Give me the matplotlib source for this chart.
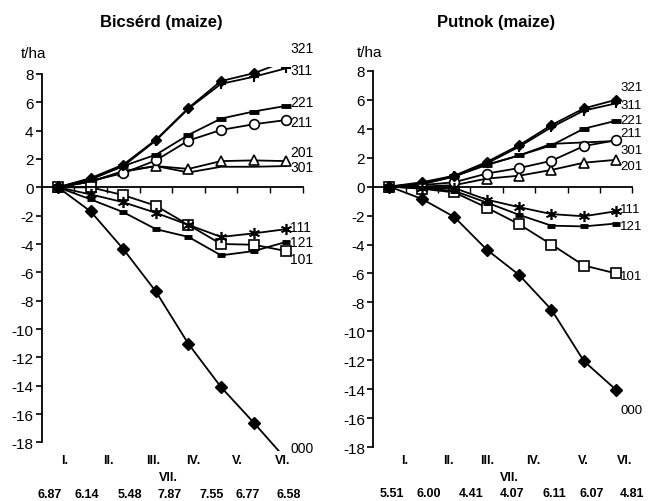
import numpy as np
import matplotlib
import matplotlib.pyplot as plt

matplotlib.use('agg')
plt.rcParams['font.family'] = ['Liberation Sans', 'DejaVu Sans']
plt.rcParams['axes.unicode_minus'] = False

x = np.arange(8)

# Bicsérd (maize), t/ha difference
bic_321 = [0, 0.65, 1.6, 3.35, 5.6, 7.5, 8.05, 8.9]
bic_311 = [0, 0.6, 1.5, 3.3, 5.55, 7.3, 7.8, 8.4]
bic_221 = [0, 0.55, 1.5, 2.3, 3.7, 4.85, 5.35, 5.75]
bic_211 = [0, 0.45, 1.0, 1.9, 3.3, 4.05, 4.45, 4.75]
bic_201 = [0, 0.4, 1.15, 1.5, 1.3, 1.85, 1.9, 1.85]
bic_301 = [0, 0.4, 1.1, 1.5, 1.05, 1.45, 1.45, 1.5]
bic_111 = [0, -0.5, -1.05, -1.8, -2.65, -3.5, -3.25, -2.95]
bic_121 = [0, -0.85, -1.75, -2.95, -3.5, -4.8, -4.5, -3.85]
bic_101 = [0, 0.0, -0.55, -1.3, -2.65, -4.0, -4.05, -4.5]
bic_000 = [0, -1.7, -4.35, -7.35, -11.05, -14.1, -16.6, -19.2]

# Putnok (maize)
put_321 = [0, 0.3, 0.75, 1.7, 2.85, 4.25, 5.4, 6.0]
put_311 = [0, 0.2, 0.7, 1.6, 2.75, 4.1, 5.25, 5.75]
put_221 = [0, 0.2, 0.75, 1.5, 2.15, 2.85, 4.0, 4.55]
put_211 = [0, 0.1, 0.3, 0.9, 1.28, 1.78, 2.8, 3.2]
put_201 = [0, 0.0, 0.1, 0.55, 0.75, 1.15, 1.65, 1.85]
put_301 = [0, 0.15, 0.7, 1.5, 2.15, 2.95, 3.05, 3.15]
put_111 = [0, -0.1, -0.1, -0.9, -1.42, -1.9, -2.05, -1.7]
put_121 = [0, -0.1, -0.3, -1.1, -1.95, -2.7, -2.75, -2.55]
put_101 = [0, -0.15, -0.4, -1.45, -2.6, -4.0, -5.45, -6.0]
put_000 = [0, -0.85, -2.1, -4.35, -6.1, -8.5, -12.05, -14.05]

# end-of-line label heights
bic_lab_y = {"321": 9.8, "311": 8.3, "221": 6.0, "211": 4.6, "201": 2.5, "301": 1.45,
             "111": -2.8, "121": -3.85, "101": -5.05, "000": -18.4}
put_lab_y = {"321": 6.9, "311": 5.6, "221": 4.6, "211": 3.7, "301": 2.5, "201": 1.45,
             "111": -1.55, "121": -2.75, "101": -6.2, "000": -15.45}

roman = ["I.", "II.", "III.", "IV.", "V.", "VI.", "VII."]
bic_control = ["6.87", "6.14", "5.48", "7.87", "7.55", "6.77", "6.58"]
put_control = ["5.51", "6.00", "4.41", "4.07", "6.11", "6.07", "4.81"]

styles = {
    "321": dict(marker="D", ms=5.5, mfc="black"),
    "311": dict(marker="+", ms=7, mew=1.5),
    "221": dict(marker="_", ms=7, mew=3.5),
    "211": dict(marker="o", ms=7, mfc="white", mew=1.2),
    "201": dict(marker="^", ms=7, mfc="white", mew=1.2),
    "301": dict(marker=None),
    "111": dict(marker=(6, 2, 0), ms=8, mew=1.2),
    "121": dict(marker="_", ms=6, mew=3.5),
    "101": dict(marker="s", ms=7, mfc="white", mew=1.2),
    "000": dict(marker="D", ms=6, mfc="black"),
}

fig = plt.figure(figsize=[6.58, 5.02], dpi=100)
ax1 = fig.add_axes([0.0634, 0.0998, 0.3964, 0.765])
ax2 = fig.add_axes([0.5673, 0.0898, 0.3939, 0.7817])

panels = [
    (ax1, {"321": bic_321, "311": bic_311, "221": bic_221, "211": bic_211, "201": bic_201,
           "301": bic_301, "111": bic_111, "121": bic_121, "101": bic_101, "000": bic_000},
     bic_lab_y, 10),
    (ax2, {"321": put_321, "311": put_311, "221": put_221, "211": put_211, "201": put_201,
           "301": put_301, "111": put_111, "121": put_121, "101": put_101, "000": put_000},
     put_lab_y, 9.5),
]

for ax, series, lab_y, lab_fs in panels:
    for name in ["301", "201", "211", "221", "311", "321", "101", "121", "111", "000"]:
        ax.plot(x, series[name], color="black", lw=1.3, mec="black", **styles[name])
        ax.text(7.12, lab_y[name], name, fontsize=lab_fs, ha="left", va="center")
    ax.set_xlim(-0.5, 7.5)
    ax.set_ylim(-18.6, 8.5)
    ax.set_yticks(np.arange(-18, 9, 2))
    ax.set_xticks(np.arange(0.5, 8, 1))
    ax.set_xticklabels([])
    ax.spines['top'].set_visible(False)
    ax.spines['right'].set_visible(False)
    ax.spines['bottom'].set_position(('data', 0))
    ax.spines['left'].set_bounds(-18, 8)
    ax.spines['left'].set_linewidth(1.3)
    ax.spines['bottom'].set_linewidth(1.3)
    ax.tick_params(axis='y', direction='out', length=4, width=1.2, labelsize=11, pad=2)
    ax.tick_params(axis='x', direction='out', length=4, width=1.0)

W, H = 658.0, 502.0

def ftext(px, py, s, **kw):
    fig.text(px / W, 1 - py / H, s, ha="center", va="center", **kw)

ftext(161, 22, "Bicsérd (maize)", fontsize=12, fontweight="bold")
ftext(496, 22, "Putnok (maize)", fontsize=12, fontweight="bold")
ftext(34, 54, "t/ha", fontsize=11)
ftext(370, 53, "t/ha", fontsize=11)

bic_rx = [65, 108, 153, 193, 237, 283, 168]
put_rx = [405, 448, 487, 533, 583, 625, 509]
bic_vx = [50, 87, 130, 170, 212, 248, 289]
put_vx = [392, 429, 471, 512, 554, 592, 632]
for i, r in enumerate(roman):
    yy = 478 if r == "VII." else 461.5
    ftext(bic_rx[i], yy, r, fontsize=9, fontweight="bold")
    ftext(put_rx[i], yy, r, fontsize=9, fontweight="bold")
    ftext(bic_vx[i], 495, bic_control[i], fontsize=9, fontweight="bold")
    ftext(put_vx[i], 494, put_control[i], fontsize=9, fontweight="bold")

plt.savefig("out.png", dpi=100)
plt.close()
